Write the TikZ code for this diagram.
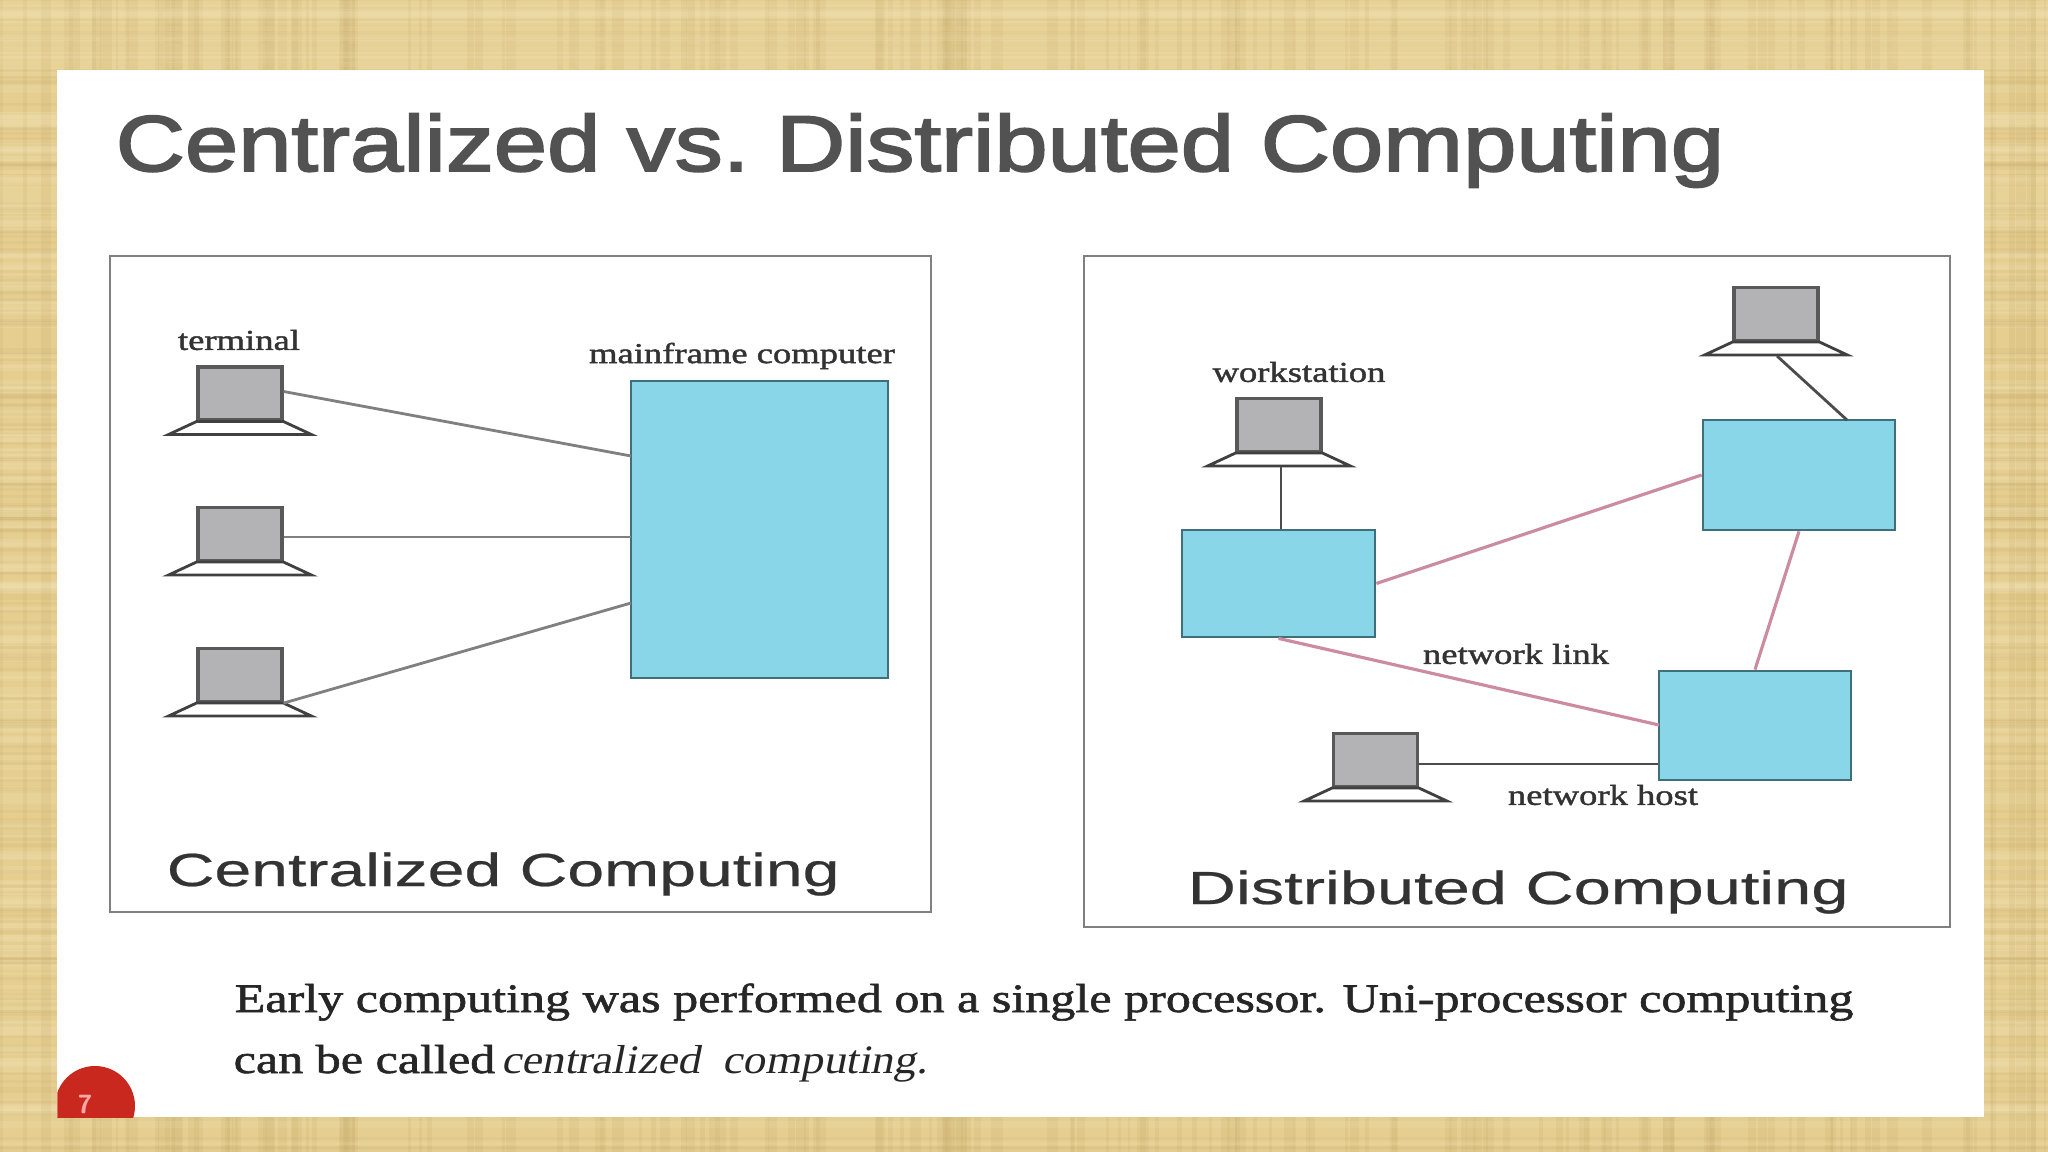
\documentclass[tikz,border=0pt]{standalone}
\usepackage{fontspec}
\usepackage{xcolor}
\usetikzlibrary{calc,positioning}
\setmainfont{Liberation Serif}
\newfontfamily\TitleFont[FakeBold=2.5,FakeStretch=1.212]{Liberation Sans}
\newfontfamily\CaptionFont[FakeStretch=1.44,FakeBold=0.5]{Liberation Sans}
\newfontfamily\CaptionLeftFont[FakeStretch=1.426,FakeBold=0.5]{Liberation Sans}
\newfontfamily\LabelFont[FakeStretch=1.27,FakeBold=1.5]{Liberation Serif}
\newfontfamily\BodyFont[FakeStretch=1.24,FakeBold=1.5]{Liberation Serif}
\newfontfamily\BodyItFont[FakeStretch=1.12,FakeSlant=0.2]{Liberation Serif}
\definecolor{Paper}{HTML}{E5CE90}
\definecolor{PaperDark}{HTML}{C4A868}
\definecolor{PaperLight}{HTML}{F1E3B6}
\definecolor{Host}{HTML}{88D6E8}
\definecolor{HostEdge}{HTML}{3F6F7C}
\definecolor{Screen}{HTML}{B3B2B4}
\definecolor{Link}{HTML}{CC8C9E}
\definecolor{Mark}{HTML}{C9281E}
\tikzset{
  Frame/.style={draw=black!50,line width=0.8pt,fill=white},
  HostBox/.style={draw=HostEdge,fill=Host,line width=0.8pt,inner sep=0pt},
  ScreenBox/.style={draw=black!65,fill=Screen,line width=0.9pt,inner sep=0pt,minimum width=0.84cm,minimum height=0.53cm},
  Wire/.style={draw=black!50,line width=0.8pt},
  NetLink/.style={draw=Link,line width=0.9pt},
  Tag/.style={inner sep=0pt,text=black!80,font=\LabelFont\fontsize{8.2}{10}\selectfont},
  Caption/.style={inner sep=0pt,anchor=base west,text=black!80,font=\CaptionFont\fontsize{13.2}{16}\selectfont},
}
\newcommand{\Terminal}[2]{%
  \node[ScreenBox] (#1) at (#2) {};
  \filldraw[fill=white,draw=black!75,line width=0.8pt] (#1.south west) -- ($(#1.south west)+(-0.28,-0.13)$) -- ($(#1.south east)+(0.28,-0.13)$) -- (#1.south east) -- cycle;
}
\begin{document}
\begin{tikzpicture}
            \useasboundingbox (0,0) rectangle (20.48,-11.52);
            % paper border
            \fill[Paper] (0,0) rectangle (20.48,-11.52);
            \pgfmathsetseed{7}
            \foreach \i in {1,...,170} {
                \pgfmathsetmacro{\px}{rnd*20.48}
                \pgfmathsetmacro{\pw}{0.02+rnd*0.1}
                \fill[PaperDark,opacity=0.16] (\px,0) rectangle ++(\pw,-11.52);
                \pgfmathsetmacro{\py}{-rnd*11.52}
                \pgfmathsetmacro{\ph}{0.02+rnd*0.08}
                \fill[PaperLight,opacity=0.2] (0,\py) rectangle ++(20.48,-\ph);
                \pgfmathsetmacro{\pz}{-rnd*11.52}
                \fill[PaperDark,opacity=0.12] (0,\pz) rectangle ++(20.48,-0.03);
            }
            \fill[white] (0.575,-0.705) rectangle (19.84,-11.17);
            % page mark
            \begin{scope}
                \clip (0.575,-0.705) rectangle (19.84,-11.17);
                \fill[Mark] (0.95,-11.06) circle[radius=0.40];
            \end{scope}
            \node[inner sep=0pt,text=red!35!white,font=\fontsize{7.5}{8}\selectfont\sffamily\bfseries] (pagenum) at (0.85,-11.04) {7};
            % title
            \node[inner sep=0pt,anchor=base west,text=black!68,font=\TitleFont\fontsize{22.5}{28}\selectfont] (title) at (1.15,-1.71) {Centralized vs.\ Distributed Computing};
            % left panel
            \node[Frame,minimum width=8.21cm,minimum height=6.56cm,inner sep=0pt] (leftframe) at (5.205,-5.84) {};
            \node[HostBox,minimum width=2.57cm,minimum height=2.97cm] (main) at (7.595,-5.295) {};
            \Terminal{t1}{2.40,-3.935}
            \Terminal{t2}{2.40,-5.34}
            \Terminal{t3}{2.40,-6.75}
            \coordinate (m1) at (6.31,-4.56);
            \coordinate (m2) at (6.31,-5.37);
            \coordinate (m3) at (6.31,-6.03);
            \draw[Wire] ($(t1.east)+(0,0.02)$) -- (m1);
            \draw[Wire] (t2.east|-m2) -- (m2);
            \draw[Wire] (t3.south east) -- (m3);
            \node[Tag] (lterm) at (2.39,-3.40) {terminal};
            \node[Tag] (lmain) at (7.42,-3.56) {mainframe computer};
            \node[Caption,font=\CaptionLeftFont\fontsize{13.2}{16}\selectfont] (lcap) at (1.66,-8.86) {Centralized Computing};
            % right panel
            \node[Frame,minimum width=8.66cm,minimum height=6.71cm,inner sep=0pt] (rightframe) at (15.17,-5.915) {};
            \node[HostBox,minimum width=1.93cm,minimum height=1.07cm] (hosta) at (12.785,-5.835) {};
            \node[HostBox,minimum width=1.92cm,minimum height=1.10cm] (hostb) at (17.99,-4.75) {};
            \node[HostBox,minimum width=1.92cm,minimum height=1.09cm] (hostc) at (17.55,-7.255) {};
            \Terminal{w1}{12.79,-4.25}
            \Terminal{w2}{17.76,-3.14}
            \Terminal{w3}{13.755,-7.60}
            \coordinate (wa) at (12.81,-4.67);
            \coordinate (wb) at (17.77,-3.56);
            \coordinate (hb) at (18.47,-4.20);
            \coordinate (wc) at (14.18,-7.64);
            \coordinate (hc) at (16.59,-7.25);
            \draw[Wire,black!70] (wa) -- (wa|-hosta.north);
            \draw[Wire,black!70] (wb) -- (hb);
            \draw[Wire,black!70] (wc) -- (wc-|hostc.west);
            \draw[NetLink] (hosta.east) -- (hostb.west);
            \draw[NetLink] (hostb.south) -- (hostc.north);
            \draw[NetLink] (hosta.south) -- (hc);
            \node[Tag] (rwork) at (12.99,-3.72) {workstation};
            \node[Tag] (rlink) at (15.16,-6.54) {network link};
            \node[Tag] (rhost) at (16.03,-7.95) {network host};
            \node[Caption] (rcap) at (11.87,-9.04) {Distributed Computing};
            % text below the panels
            \node[inner sep=0pt,anchor=base west,text=black!85,font=\BodyFont\fontsize{11.5}{14}\selectfont] (line1) at (2.34,-10.12) {Early computing was performed on a single processor. Uni-processor computing};
            \node[inner sep=0pt,anchor=base west,text=black!85,font=\BodyFont\fontsize{11.5}{14}\selectfont] (line2) at (2.33,-10.73) {can be called\kern-0.065cm\ {\BodyItFont centralized\ \ computing.}};
\end{tikzpicture}
\end{document}
